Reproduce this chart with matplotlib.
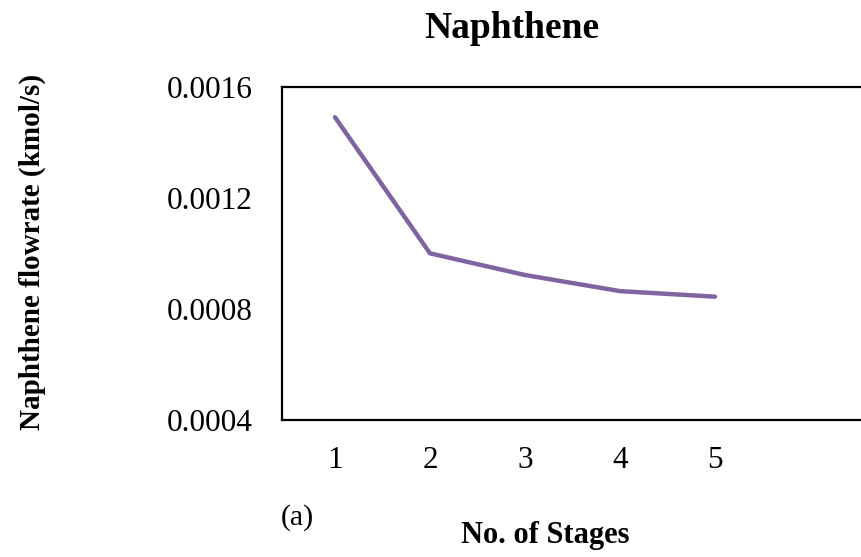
import matplotlib
matplotlib.use("Agg")
import matplotlib.pyplot as plt

# Naphthene flowrate per stage
stages = [1, 2, 3, 4, 5]
flow = [0.00149, 0.00100, 0.000922, 0.000864, 0.000844]
yticks = [0.0004, 0.0008, 0.0012, 0.0016]
ytick_labels = ["0.0004", "0.0008", "0.0012", "0.0016"]

plt.rcParams['font.family'] = ['Liberation Serif', 'DejaVu Serif']

W, H = 862, 557
fig = plt.figure(figsize=(W / 100, H / 100), dpi=100)
ax = fig.add_axes([282 / W, (H - 420) / H, (W - 282) / W, (420 - 86.7) / H])

ax.plot(stages, flow, color='#8064A2', linewidth=3.2, solid_capstyle='round')

ax.set_xlim(1 - 53 / 95, 1 + (W - 335) / 95)
ax.set_ylim(0.0004, 0.0016)
ax.set_xticks(stages)
ax.set_xticklabels([str(s) for s in stages])
ax.set_yticks(yticks)
ax.set_yticklabels(ytick_labels)
ax.tick_params(length=0, labelsize=22.5)
ax.tick_params(axis='x', pad=19)
ax.tick_params(axis='y', pad=21)
for side in ['left', 'top', 'bottom']:
    ax.spines[side].set_linewidth(1.6)
ax.spines['right'].set_visible(False)

fig.text(512 / W, 1 - 29 / H, "Naphthene", ha='center', va='center',
         fontsize=27, fontweight='bold')
fig.text(32 / W, 1 - 252 / H, "Naphthene flowrate (kmol/s)", ha='center',
         va='center', rotation=90, fontsize=21, fontweight='bold')
fig.text(545 / W, 1 - 536 / H, "No. of Stages", ha='center', va='center',
         fontsize=22, fontweight='bold')
fig.text(297 / W, 1 - 518 / H, "(a)", ha='center', va='center', fontsize=21.5)

fig.savefig("out.png", dpi=100)
